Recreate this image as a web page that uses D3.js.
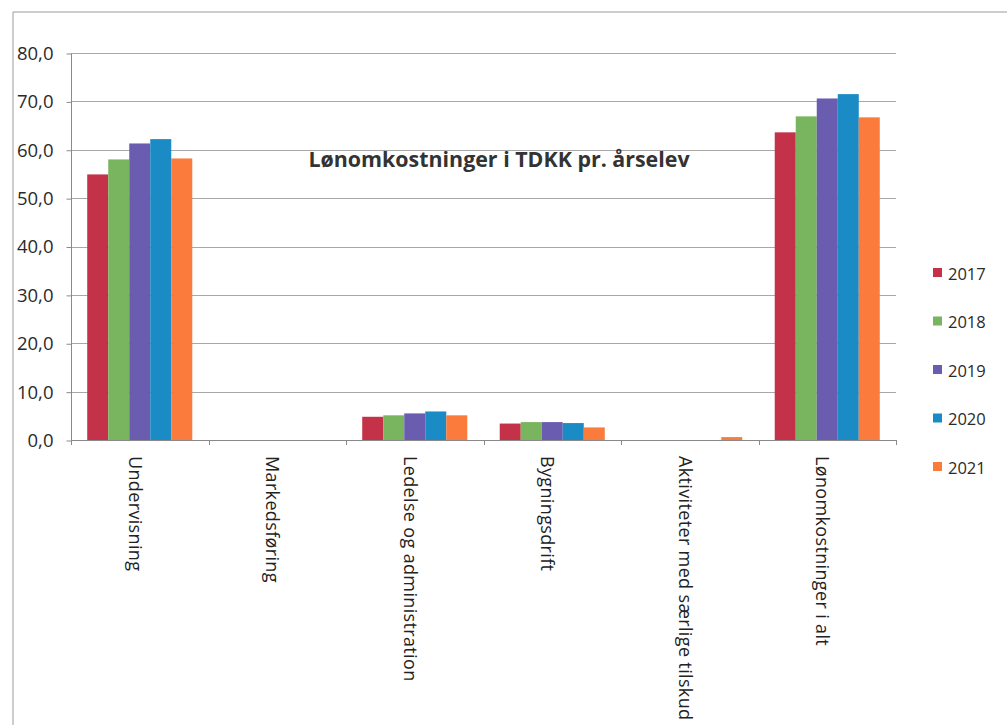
<!DOCTYPE html>
<html>
<head>
<meta charset="utf-8">
<script src="https://cdn.jsdelivr.net/npm/d3@7"></script>
<style>
html,body{margin:0;padding:0;background:#fff;}
svg{display:block;}
</style>
</head>
<body>
<svg id="chart" width="1007" height="725"></svg>
<script>
const categories = ["Undervisning","Markedsføring","Ledelse og administration","Bygningsdrift","Aktiviteter med særlige tilskud","Lønomkostninger i alt"];
const years = ["2017","2018","2019","2020","2021"];
const v2017 = [54.9, 0, 4.8, 3.4, 0, 63.6];
const v2018 = [58.0, 0, 5.1, 3.7, 0, 66.9];
const v2019 = [61.3, 0, 5.5, 3.7, 0, 70.6];
const v2020 = [62.2, 0, 5.9, 3.5, 0, 71.5];
const v2021 = [58.2, 0, 5.1, 2.6, 0.6, 66.7];
const yTicks = [0,10,20,30,40,50,60,70,80];
const colors = ["#C33248","#79B45E","#6A5DB0","#1A8BC5","#FA7B3C"];
const title = "Lønomkostninger i TDKK pr. årselev";

const seriesValues = [v2017, v2018, v2019, v2020, v2021];
const svg = d3.select("#chart");
const mLeft = 71, mRight = 896, mTop = 53, mBottom = 440;

// outer border
svg.append("path").attr("d","M13,725 L13,12 L1007,12").attr("fill","none").attr("stroke","#9a9a9a").attr("stroke-width",1);

const y = d3.scaleLinear().domain([0,80]).range([mBottom, mTop]);
const x0 = d3.scaleBand().domain(categories).range([mLeft, mRight]).paddingInner(0.236).paddingOuter(0.118);
const x1 = d3.scaleBand().domain(years).range([0, x0.bandwidth()]);
const xEdges = d3.scalePoint().domain(d3.range(categories.length + 1)).range([mLeft, mRight]);

// gridlines
svg.append("g").selectAll("line").data(yTicks.filter(d => d > 0)).join("line")
  .attr("x1", mLeft).attr("x2", mRight)
  .attr("y1", d => Math.round(y(d)) + 0.5).attr("y2", d => Math.round(y(d)) + 0.5)
  .attr("stroke", "#a8a8a8").attr("stroke-width", 1);

// y axis
const yAxis = d3.axisLeft(y).tickValues(yTicks).tickSize(5).tickPadding(13)
  .tickFormat(d => d3.format(".1f")(d).replace(".", ","));
const gy = svg.append("g").attr("transform", `translate(${mLeft + 0.5},0.5)`).call(yAxis);
gy.select(".domain").attr("stroke", "#8a8a8a").attr("d", `M0,${y(80)}V${y(0)}`);
gy.selectAll(".tick line").attr("stroke", "#8a8a8a");
gy.selectAll(".tick text").attr("font-family", "'Open Sans', sans-serif").attr("font-size", 18.5).attr("fill", "#2a2a2a");

// bars
const groups = svg.append("g").selectAll("g").data(categories).join("g")
  .attr("transform", c => `translate(${x0(c)},0)`);
groups.selectAll("rect").data((c, i) => years.map((yr, j) => ({yr, v: seriesValues[j][i], j}))).join("rect")
  .attr("x", d => x1(d.yr)).attr("width", x1.bandwidth())
  .attr("y", d => y(d.v)).attr("height", d => y(0) - y(d.v))
  .attr("fill", d => colors[d.j]);

// x axis line and ticks
svg.append("line").attr("x1", mLeft).attr("x2", mRight).attr("y1", mBottom + 0.5).attr("y2", mBottom + 0.5).attr("stroke", "#8a8a8a");
svg.append("g").selectAll("line").data(d3.range(categories.length + 1)).join("line")
  .attr("x1", d => Math.round(xEdges(d)) + 0.5).attr("x2", d => Math.round(xEdges(d)) + 0.5)
  .attr("y1", mBottom).attr("y2", mBottom + 5).attr("stroke", "#8a8a8a");

// x labels rotated
svg.append("g").selectAll("text").data(categories).join("text")
  .attr("transform", c => `translate(${x0(c) + x0.bandwidth()/2 - 4},${mBottom + 16}) rotate(90)`)
  .attr("text-anchor", "start").attr("dominant-baseline", "central")
  .attr("font-family", "'Open Sans', sans-serif").attr("font-size", 18).attr("fill", "#222")
  .attr("letter-spacing", 0.35)
  .text(c => c);

// title
svg.append("text").attr("x", 499).attr("y", 167).attr("text-anchor", "middle")
  .attr("font-family", "'Open Sans', sans-serif").attr("font-weight", "bold").attr("font-size", 21.4).attr("fill", "#333")
  .text(title);

// legend
const legend = svg.append("g").selectAll("g").data(years).join("g")
  .attr("transform", (d, i) => `translate(933,${273 + i * 48.5})`);
legend.append("rect").attr("x", 0).attr("y", -5).attr("width", 9).attr("height", 9).attr("fill", (d, i) => colors[i]);
legend.append("text").attr("x", 15).attr("y", 0).attr("dominant-baseline", "central")
  .attr("font-family", "'Open Sans', sans-serif").attr("font-size", 16.5).attr("fill", "#2a2a2a").text(d => d);
</script>
</body>
</html>
